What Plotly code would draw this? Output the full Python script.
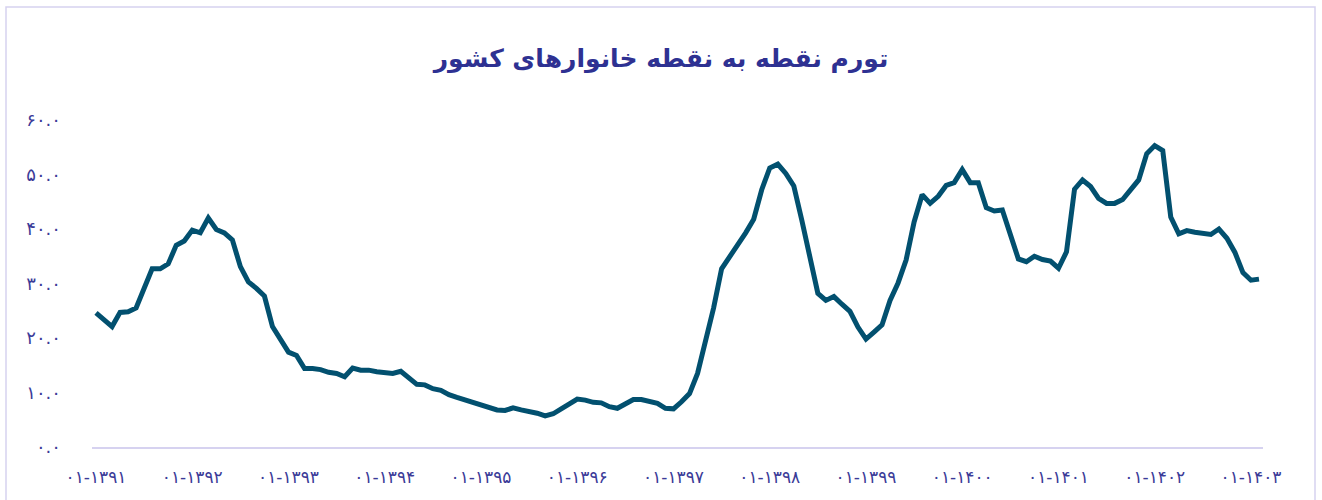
import plotly.graph_objects as go

# Point-to-point household inflation (%), monthly from 01-1391
inflation = [
    24.6, 23.3, 22.1, 24.7, 24.8, 25.5, 29.4, 32.7, 32.7, 33.6, 37.0, 37.8,
    39.8, 39.3, 42.0, 39.9, 39.3, 38.0, 33.1, 30.3, 29.1, 27.7, 22.1, 19.7,
    17.4, 16.8, 14.4, 14.4, 14.2, 13.7, 13.5, 12.9, 14.5, 14.1, 14.1, 13.8,
    13.6, 13.5, 13.9, 12.6, 11.5, 11.4, 10.7, 10.4, 9.6, 9.1, 8.6, 8.1,
    7.7, 7.2, 6.8, 6.7, 7.2, 6.8, 6.6, 6.2, 5.7, 6.1, 7.0, 8.0,
    8.8, 8.6, 8.2, 8.1, 7.4, 7.1, 8.0, 8.7, 8.7, 8.3, 8.0, 7.1,
    7.0, 8.3, 9.8, 13.5, 19.1, 25.5, 32.7, 34.8, 37.0, 39.3, 41.8, 47.2,
    51.2, 51.9, 50.2, 47.9, 41.6, 34.5, 28.2, 26.9, 27.6, 26.2, 24.9, 22.0,
    19.8, 21.1, 22.4, 26.9, 30.1, 34.3, 41.3, 46.3, 44.7, 46.0, 48.0, 48.5,
    50.9, 48.5, 48.5, 43.9, 43.3, 43.5, 38.8, 34.5, 34.0, 35.0, 34.4, 34.1,
    32.8, 35.8, 47.3, 49.0, 47.8, 45.6, 44.7, 44.7, 45.4, 47.2, 49.0, 53.8,
    55.3, 54.4, 42.2, 39.1, 39.7, 39.4, 39.1, 39.0, 40.0, 38.3, 35.7, 32.0,
    30.6, 30.8,
]

fa_digits = str.maketrans("0123456789", "۰۱۲۳۴۵۶۷۸۹")
start_year = 1391
months = [f"{(k % 12) + 1:02d}-{start_year + k // 12}".translate(fa_digits)
          for k in range(len(inflation))]

x_tick_labels = ["۰۱-۱۳۹۱", "۰۱-۱۳۹۲", "۰۱-۱۳۹۳", "۰۱-۱۳۹۴", "۰۱-۱۳۹۵",
                 "۰۱-۱۳۹۶", "۰۱-۱۳۹۷", "۰۱-۱۳۹۸", "۰۱-۱۳۹۹", "۰۱-۱۴۰۰",
                 "۰۱-۱۴۰۱", "۰۱-۱۴۰۲", "۰۱-۱۴۰۳"]
y_tick_values = [0, 10, 20, 30, 40, 50, 60]
y_tick_labels = ["۰.۰", "۱۰.۰", "۲۰.۰", "۳۰.۰", "۴۰.۰", "۵۰.۰", "۶۰.۰"]

title_text = "تورم نقطه به نقطه خانوارهای کشور"

text_color = "#3B3B98"
axis_color = "#D6D2F0"
line_color = "#02506F"

W, H = 1322, 500
ml, mr, mt, mb = 92, 59, 120, 53
pw, ph = W - ml - mr, H - mt - mb

fig = go.Figure()
fig.add_trace(go.Scatter(
    x=months, y=inflation, mode="lines",
    line=dict(color=line_color, width=5),
    hoverinfo="x+y", showlegend=False,
))

def px_x(p):
    return (p - ml) / pw

def px_y(p):
    return (H - mb - p) / ph

fig.update_layout(
    width=W, height=H,
    margin=dict(l=ml, r=mr, t=mt, b=mb),
    paper_bgcolor="white", plot_bgcolor="white",
    font=dict(family="DejaVu Sans", color=text_color),
    title=dict(
        text=title_text, x=0.5, xref="container", xanchor="center",
        y=1 - 58 / H, yref="container", yanchor="middle",
        font=dict(family="DejaVu Sans", size=25, color="#2E3192", weight="bold"),
    ),
    xaxis=dict(
        type="category", range=[-0.5, len(inflation) - 0.5],
        tickmode="array", tickvals=months[::12], ticktext=x_tick_labels,
        showgrid=False, zeroline=False, showline=True,
        linecolor=axis_color, linewidth=2, ticks="",
        tickfont=dict(size=17, color=text_color),
        ticklabelstandoff=14,
    ),
    yaxis=dict(
        range=[0, 60], tickmode="array", tickvals=y_tick_values,
        ticktext=y_tick_labels, showgrid=False, zeroline=False,
        showline=False, ticks="",
        tickfont=dict(size=18, color=text_color),
        ticklabelstandoff=30,
    ),
    shapes=[dict(
        type="rect", xref="paper", yref="paper",
        x0=px_x(6), x1=px_x(1315), y0=px_y(530), y1=px_y(7),
        line=dict(color=axis_color, width=1.5), layer="below",
    )],
)

fig.write_html(
    "out.html",
    config={"displayModeBar": False},
    post_script="document.body.style.margin='0';document.body.style.overflow='hidden';",
)
